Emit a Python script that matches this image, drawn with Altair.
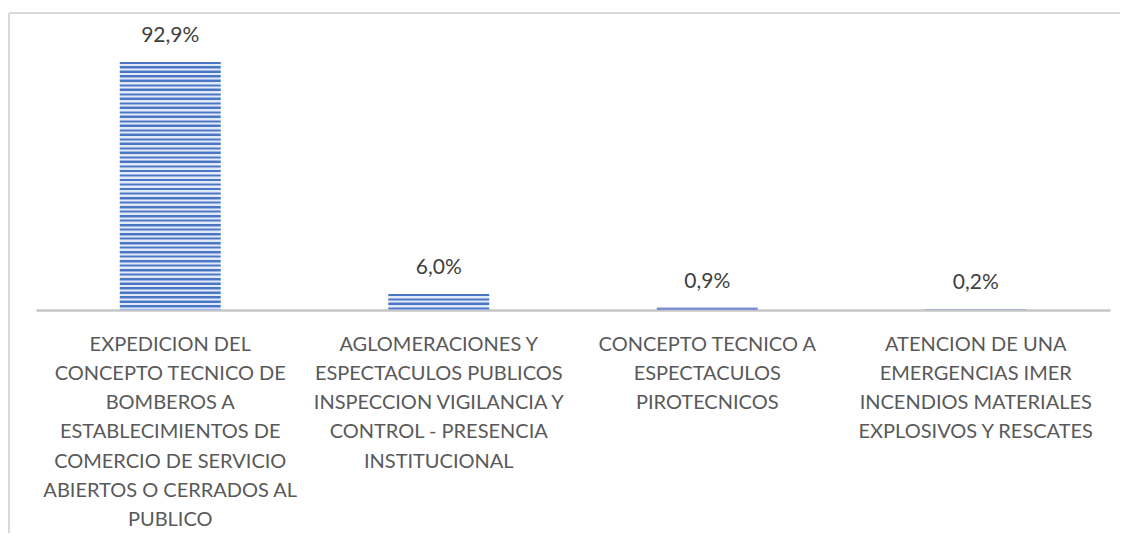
import altair as alt
import pandas as pd

categories = [
    "EXPEDICION DEL\nCONCEPTO TECNICO DE\nBOMBEROS A\nESTABLECIMIENTOS DE\nCOMERCIO  DE SERVICIO\nABIERTOS O CERRADOS AL\nPUBLICO",
    "AGLOMERACIONES Y\nESPECTACULOS PUBLICOS\nINSPECCION  VIGILANCIA Y\nCONTROL - PRESENCIA\nINSTITUCIONAL",
    "CONCEPTO TECNICO A\nESPECTACULOS\nPIROTECNICOS",
    "ATENCION DE UNA\nEMERGENCIAS IMER\nINCENDIOS  MATERIALES\nEXPLOSIVOS Y RESCATES",
]
values = [92.9, 6.0, 0.9, 0.2]
labels = ["92,9%", "6,0%", "0,9%", "0,2%"]

df = pd.DataFrame({"cat": categories, "value": values, "label": labels})

DARK = "#4a76c6"
MID = "#9db4e2"
LIGHT = "#e3eaf7"


def stripes(n):
    stops = []
    period = 1.0 / n
    k = 0
    while k * period < 1.0:
        a = k * period
        pts = [
            (0.0, DARK), (0.35, DARK), (0.35, MID), (0.5, MID),
            (0.5, LIGHT), (0.85, LIGHT), (0.85, MID), (1.0, MID),
        ]
        for f, col in pts:
            stops.append({"offset": min(a + period * f, 1.0), "color": col})
        k += 1
    return {"gradient": "linear", "x1": 0, "y1": 0, "x2": 0, "y2": 1, "stops": stops}


W, H = 1074, 267
FONT = "Lato"

x = alt.X(
    "cat:N",
    sort=categories,
    title=None,
    scale=alt.Scale(paddingInner=0.624, paddingOuter=0.312),
    axis=alt.Axis(
        labelExpr="split(datum.label, '\\n')",
        labelAngle=0,
        labelFont=FONT,
        labelFontSize=20,
        labelColor="#595959",
        labelLineHeight=29.3,
        labelBaseline="top",
        labelPadding=24,
        labelLimit=400,
        ticks=False,
        domainColor="#c6c6c6",
        domainWidth=2.5,
        grid=False,
    ),
)
y = alt.Y("value:Q", scale=alt.Scale(domain=[0, 100], nice=False), axis=None)

bars = alt.Chart(df).mark_bar().encode(
    x=x,
    y=y,
    fill={
        "condition": [
            {"test": "datum.value > 50", "value": stripes(55)},
            {"test": "datum.value > 3", "value": stripes(3.5)},
        ],
        "value": "#7f8fcf",
    },
)

text = alt.Chart(df).mark_text(
    font=FONT, fontSize=21, color="#404040", baseline="middle", dy=-26
).encode(x=alt.X("cat:N", sort=categories), y="value:Q", text="label:N")

border_top = alt.Chart(df).mark_rule(color="#d9d9d9", strokeWidth=2).encode(
    x=alt.value(-27), x2=alt.value(W + 10), y=alt.value(-30)
)
border_left = alt.Chart(df).mark_rule(color="#d9d9d9", strokeWidth=2).encode(
    x=alt.value(-27), y=alt.value(-30), y2=alt.value(H + 230)
)

chart = (
    alt.layer(border_top, border_left, bars, text)
    .properties(
        width=W,
        height=H,
        autosize=alt.AutoSizeParams(type="none"),
        padding={"left": 28, "top": 35, "right": 10, "bottom": 223},
        background="white",
    )
    .configure_view(stroke=None)
)

chart.save("out.html", embed_options={"renderer": "svg", "actions": False})
